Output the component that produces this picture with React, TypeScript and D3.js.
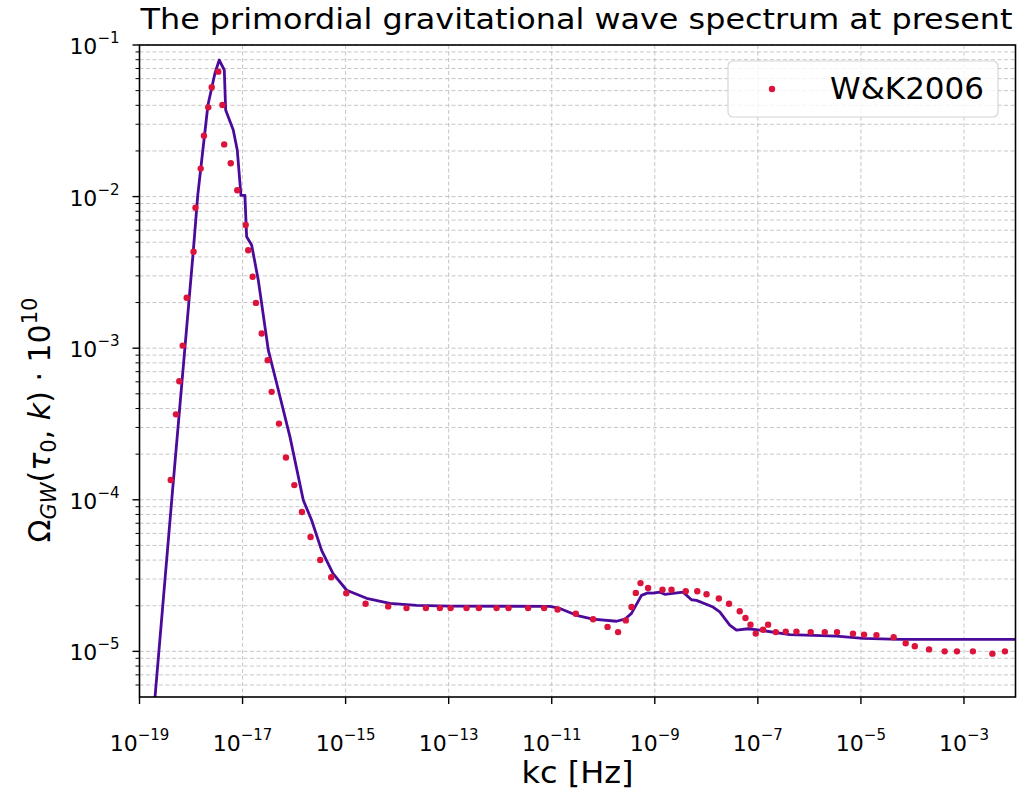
import React from 'react';
import * as d3 from 'd3';

// solid curve (model)
const lineK = [1.7e-19, 4.22e-19, 7.64e-19, 1.11e-18, 1.35e-18, 2.13e-18, 2.92e-18, 3.53e-18, 4.42e-18, 4.7e-18,
  6.6e-18, 7.89e-18, 9.31e-18, 1.11e-17, 1.2e-17, 1.5e-17, 2.02e-17, 3.16e-17, 4.59e-17, 8.32e-17,
  1.51e-16, 2.19e-16, 3.42e-16, 5.67e-16, 1.05e-15, 2.55e-15, 7.23e-15, 2.38e-14, 1.05e-13, 9.18e-12,
  1.44e-11, 3.03e-11, 6.27e-11, 1.81e-10, 2.62e-10, 3.53e-10, 5.52e-10, 7.31e-10, 9.14e-10, 1.25e-9,
  1.56e-9, 3.54e-9, 5.15e-9, 6.44e-9, 1.35e-8, 1.82e-8, 2.85e-8, 3.85e-8, 6.46e-8, 1.09e-7,
  4.16e-7, 3.35e-6, 1.1e-5, 5.66e-5, 1e-2];
const lineOmega = [2.6e-6, 9.93e-5, 1.02e-3, 4.43e-3, 1.02e-2, 4.02e-2, 6.53e-2, 7.96e-2, 6.84e-2, 3.73e-2,
  2.75e-2, 2.03e-2, 1.02e-2, 1.02e-2, 5.43e-3, 4.79e-3, 2.81e-3, 9.71e-4, 5.87e-4, 2.6e-4,
  9.93e-5, 7.33e-5, 4.64e-5, 3.27e-5, 2.53e-5, 2.24e-5, 2.07e-5, 2.01e-5, 1.99e-5, 1.98e-5,
  1.92e-5, 1.73e-5, 1.63e-5, 1.58e-5, 1.63e-5, 1.78e-5, 2.34e-5, 2.43e-5, 2.42e-5, 2.46e-5,
  2.38e-5, 2.46e-5, 2.19e-5, 2.17e-5, 1.96e-5, 1.82e-5, 1.49e-5, 1.38e-5, 1.41e-5, 1.38e-5,
  1.29e-5, 1.26e-5, 1.22e-5, 1.2e-5, 1.2e-5];

// W&K2006 points
const dotK = [4.03e-19, 5.1e-19, 5.92e-19, 6.89e-19, 8.24e-19, 1.12e-18, 1.22e-18, 1.54e-18, 1.78e-18, 2.16e-18,
  2.52e-18, 3.38e-18, 4.07e-18, 4.4e-18, 5.9e-18, 7.89e-18, 1.15e-17, 1.29e-17, 1.57e-17, 1.82e-17,
  2.35e-17, 3.07e-17, 3.67e-17, 5.09e-17, 6.95e-17, 1.01e-16, 1.42e-16, 2.09e-16, 3.21e-16, 5.26e-16,
  1.03e-15, 2.44e-15, 6.7e-15, 1.52e-14, 3.61e-14, 6.75e-14, 1.09e-13, 2.22e-13, 3.85e-13, 8.5e-13,
  1.45e-12, 3.48e-12, 7.12e-12, 1.3e-11, 2.93e-11, 6.35e-11, 1.21e-10, 1.94e-10, 2.74e-10, 3.53e-10,
  4.28e-10, 5.28e-10, 7.41e-10, 1.41e-9, 2.11e-9, 3.99e-9, 6.67e-9, 1.01e-8, 1.75e-8, 2.76e-8,
  4.45e-8, 5.75e-8, 7.19e-8, 9.1e-8, 1.26e-7, 1.58e-7, 2.23e-7, 3.48e-7, 5.61e-7, 1.06e-6,
  1.99e-6, 3.44e-6, 7.02e-6, 1.15e-5, 2.0e-5, 4.32e-5, 7.39e-5, 1.11e-4, 2.1e-4, 4.22e-4,
  7.31e-4, 1.49e-3, 3.56e-3, 6.24e-3];
const dotOmega = [1.35e-4, 3.66e-4, 6.05e-4, 1.04e-3, 2.15e-3, 4.33e-3, 8.44e-3, 1.53e-2, 2.52e-2, 3.88e-2,
  5.26e-2, 6.67e-2, 4.02e-2, 2.21e-2, 1.66e-2, 1.1e-2, 6.49e-3, 4.43e-3, 2.96e-3, 1.99e-3,
  1.25e-3, 8.34e-4, 5.15e-4, 3.18e-4, 1.9e-4, 1.25e-4, 8.3e-5, 5.68e-5, 4.01e-5, 3.08e-5,
  2.42e-5, 2.06e-5, 1.98e-5, 1.93e-5, 1.93e-5, 1.93e-5, 1.93e-5, 1.93e-5, 1.93e-5, 1.93e-5,
  1.93e-5, 1.93e-5, 1.93e-5, 1.89e-5, 1.77e-5, 1.63e-5, 1.45e-5, 1.34e-5, 1.6e-5, 1.96e-5,
  2.43e-5, 2.82e-5, 2.62e-5, 2.55e-5, 2.55e-5, 2.49e-5, 2.49e-5, 2.38e-5, 2.23e-5, 2.06e-5,
  1.84e-5, 1.66e-5, 1.5e-5, 1.31e-5, 1.39e-5, 1.5e-5, 1.34e-5, 1.35e-5, 1.35e-5, 1.34e-5,
  1.34e-5, 1.34e-5, 1.31e-5, 1.29e-5, 1.28e-5, 1.24e-5, 1.13e-5, 1.08e-5, 1.03e-5, 1.0e-5,
  1.0e-5, 1.0e-5, 9.66e-6, 1.0e-5];

const xTickExps = [-19, -17, -15, -13, -11, -9, -7, -5, -3];
const yTickExps = [-1, -2, -3, -4, -5];

const title = 'The primordial gravitational wave spectrum at present';
const legendLabel = 'W&K2006';

const W = 1024, H = 793;
const L = 139.5, R = 1015.5, T = 45, B = 697;
const font = 'DejaVu Sans, sans-serif';

export default function App() {
  const x = d3.scaleLog().domain([1e-19, 1e-2]).range([L, R]);
  const y = d3.scaleLog().domain([5e-6, 1e-1]).range([B, T]);

  const line = d3.line<number>()
    .x((d, i) => x(lineK[i]))
    .y((d) => y(d));

  const yMinor: number[] = [];
  for (let e = -6; e <= -2; e++) {
    for (let m = 2; m <= 9; m++) {
      const v = m * Math.pow(10, e);
      if (v >= 5e-6 && v <= 1e-1) yMinor.push(v);
    }
  }

  return (
    <svg width={W} height={H} style={{ position: 'absolute', left: 0, top: 0, background: '#fff' }}
      fontFamily={font}>
      <defs>
        <clipPath id="plot">
          <rect x={L} y={T} width={R - L} height={B - T} />
        </clipPath>
      </defs>

      {/* grid */}
      <g stroke="#b8b8b8" strokeWidth={0.8} strokeDasharray="4,2.5">
        {xTickExps.map(e => (
          <line key={'gx' + e} x1={x(Math.pow(10, e))} x2={x(Math.pow(10, e))} y1={T} y2={B} />
        ))}
        {yTickExps.map(e => (
          <line key={'gy' + e} x1={L} x2={R} y1={y(Math.pow(10, e))} y2={y(Math.pow(10, e))} />
        ))}
        {yMinor.map(v => (
          <line key={'gm' + v} x1={L} x2={R} y1={y(v)} y2={y(v)} />
        ))}
      </g>

      {/* data */}
      <g clipPath="url(#plot)">
        <path d={line(lineOmega) || ''} fill="none" stroke="#4b0a9a" strokeWidth={2.8} strokeLinejoin="round" />
        {dotK.map((k, i) => (
          <circle key={'d' + i} cx={x(k)} cy={y(dotOmega[i])} r={3.2} fill="#dc143c" />
        ))}
      </g>

      {/* frame */}
      <rect x={L} y={T} width={R - L} height={B - T} fill="none" stroke="#000" strokeWidth={1.6} />

      {/* x ticks */}
      {xTickExps.map(e => {
        const px = x(Math.pow(10, e));
        return (
          <g key={'xt' + e}>
            <line x1={px} x2={px} y1={B} y2={B + 7} stroke="#000" strokeWidth={1.4} />
            <text x={px} y={751} textAnchor="middle" fontSize={22} fill="#000">
              <tspan>10</tspan>
              <tspan dy={-11} fontSize={15}>{'\u2212' + Math.abs(e)}</tspan>
            </text>
          </g>
        );
      })}

      {/* y ticks */}
      {yTickExps.map(e => {
        const py = y(Math.pow(10, e));
        return (
          <g key={'yt' + e}>
            <line x1={L - 7} x2={L} y1={py} y2={py} stroke="#000" strokeWidth={1.4} />
            <text x={L - 20} y={py + 9} textAnchor="end" fontSize={22} fill="#000">
              <tspan>10</tspan>
              <tspan dy={-11} fontSize={15}>{'\u2212' + Math.abs(e)}</tspan>
            </text>
          </g>
        );
      })}
      {yMinor.map(v => (
        <line key={'ym' + v} x1={L - 4} x2={L} y1={y(v)} y2={y(v)} stroke="#000" strokeWidth={1} />
      ))}

      {/* title */}
      <text x={(L + R) / 2 - 1} y={29} textAnchor="middle" fontSize={29} fill="#000"
        textLength={872} lengthAdjust="spacingAndGlyphs">{title}</text>

      {/* x label */}
      <text x={(L + R) / 2} y={783} textAnchor="middle" fontSize={31} fill="#000"
        textLength={112} lengthAdjust="spacingAndGlyphs">kc [Hz]</text>

      {/* y label */}
      <text transform={`translate(50, 420) rotate(-90)`} textAnchor="middle" fontSize={30} fill="#000">
        <tspan>Ω</tspan>
        <tspan fontStyle="italic" fontSize={21} dy={6}>GW</tspan>
        <tspan dy={-6}>(</tspan>
        <tspan fontStyle="italic">τ</tspan>
        <tspan fontSize={21} dy={6}>0</tspan>
        <tspan dy={-6}>, </tspan>
        <tspan fontStyle="italic">k</tspan>
        <tspan>) · 10</tspan>
        <tspan fontSize={21} dy={-13}>10</tspan>
      </text>

      {/* legend */}
      <g>
        <rect x={728} y={61} width={270} height={56} rx={5} fill="#fff" fillOpacity={0.8} stroke="#d6d6d6" strokeWidth={1.2} />
        <circle cx={772} cy={89} r={3.2} fill="#dc143c" />
        <text x={830} y={99} fontSize={31} fill="#000" textLength={154} lengthAdjust="spacingAndGlyphs">{legendLabel}</text>
      </g>
    </svg>
  );
}
